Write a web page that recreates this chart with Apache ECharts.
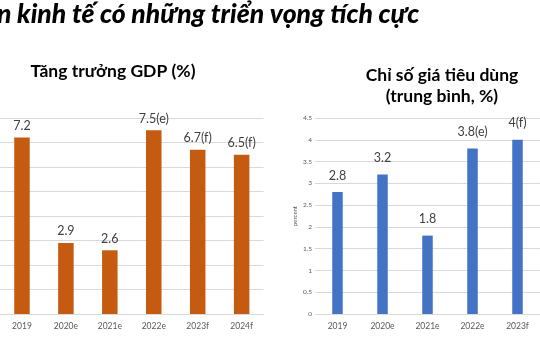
<!DOCTYPE html>
<html><head><meta charset="utf-8">
<script src="https://cdn.jsdelivr.net/npm/echarts@6/dist/echarts.min.js"></script>
<style>html,body{margin:0;padding:0;background:#fff}#c{width:540px;height:360px}</style>
</head><body><div id="c"></div>
<script>
const mainTitle = 'n kinh tế có những triển vọng tích cực';
const gdpTitle = 'Tăng trưởng GDP (%)';
const cpiTitle = 'Chỉ số giá tiêu dùng\n(trung bình, %)';
const gdpCategories = ['2019', '2020e', '2021e', '2022e', '2023f', '2024f'];
const gdpValues = [7.2, 2.9, 2.6, 7.5, 6.7, 6.5];
const gdpLabels = ['7.2', '2.9', '2.6', '7.5(e)', '6.7(f)', '6.5(f)'];
const cpiCategories = ['2019', '2020e', '2021e', '2022e', '2023f'];
const cpiValues = [2.8, 3.2, 1.8, 3.8, 4.0];
const cpiLabels = ['2.8', '3.2', '1.8', '3.8(e)', '4(f)'];

const F = 'Lato, "Open Sans", sans-serif';
const chart = echarts.init(document.getElementById('c'), null, {renderer: 'canvas'});
chart.setOption({
  animation: false,
  backgroundColor: '#ffffff',
  textStyle: {fontFamily: F},
  graphic: [
    {type: 'text', left: -3, top: 1, style: {text: mainTitle, font: 'italic 900 26.5px ' + F, fill: '#000'}},
    {type: 'text', x: 113, y: 71, style: {text: gdpTitle, font: 'bold 17.5px ' + F, fill: '#000', textAlign: 'center', textVerticalAlign: 'middle'}},
    {type: 'text', x: 442, y: 86, style: {text: cpiTitle, font: 'bold 17.5px ' + F, fill: '#000', textAlign: 'center', textVerticalAlign: 'middle', lineHeight: 21}}
  ],
  grid: [
    {left: -14, width: 277.6, top: 118, bottom: 46, containLabel: false},
    {left: 315, width: 228, top: 118, bottom: 46, containLabel: false}
  ],
  xAxis: [
    {type: 'category', gridIndex: 0, data: gdpCategories,
     axisLine: {lineStyle: {color: '#d9d9d9'}}, axisTick: {show: false},
     axisLabel: {color: '#595959', fontSize: 8.5, margin: 8, fontFamily: F}},
    {type: 'category', gridIndex: 1, data: cpiCategories,
     axisLine: {lineStyle: {color: '#d9d9d9'}}, axisTick: {show: false},
     axisLabel: {color: '#595959', fontSize: 8.5, margin: 8, fontFamily: F}}
  ],
  yAxis: [
    {type: 'value', gridIndex: 0, min: 0, max: 8, interval: 1,
     axisLabel: {show: false}, axisLine: {show: false}, axisTick: {show: false},
     splitLine: {lineStyle: {color: '#d9d9d9'}}},
    {type: 'value', gridIndex: 1, min: 0, max: 4.5, interval: 0.5,
     name: 'percent', nameLocation: 'middle', nameRotate: 90, nameGap: 17,
     nameTextStyle: {fontSize: 6, color: '#595959', fontFamily: F},
     axisLabel: {color: '#595959', fontSize: 6.5, margin: 3, fontFamily: F},
     axisLine: {show: false}, axisTick: {show: false},
     splitLine: {lineStyle: {color: '#d9d9d9'}}}
  ],
  series: [
    {type: 'bar', xAxisIndex: 0, yAxisIndex: 0, data: gdpValues, barWidth: 15.5,
     itemStyle: {color: '#C55A11'},
     label: {show: true, position: 'top', distance: 5, fontSize: 12.5, color: '#404040', fontFamily: F,
       formatter: p => gdpLabels[p.dataIndex]}},
    {type: 'bar', xAxisIndex: 1, yAxisIndex: 1, data: cpiValues, barWidth: 10.5,
     itemStyle: {color: '#4472C4'},
     label: {show: true, position: 'top', distance: 10, fontSize: 12.5, color: '#404040', fontFamily: F,
       formatter: p => cpiLabels[p.dataIndex]}}
  ]
});
</script></body></html>
